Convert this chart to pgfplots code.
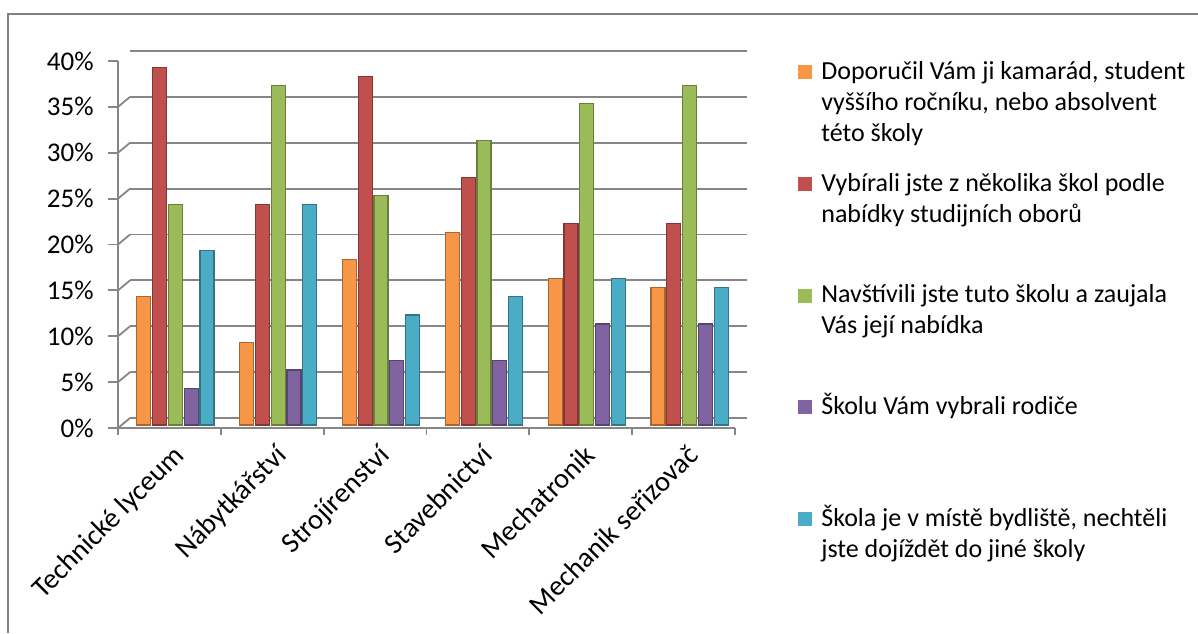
\documentclass[border=0pt]{standalone}
\usepackage{pgfplots}
\pgfplotsset{compat=1.18}
\usepackage{fontspec}
\setmainfont{Carlito}
\definecolor{cO}{HTML}{F79646}
\definecolor{cR}{HTML}{C0504D}
\definecolor{cG}{HTML}{9BBB59}
\definecolor{cP}{HTML}{8064A2}
\definecolor{cB}{HTML}{4BACC6}
\definecolor{gridc}{HTML}{868686}
\definecolor{framec}{HTML}{808080}
\pgfplotsset{
  mybar/.style={fill=#1, draw=#1!68!black, line width=0.6pt,
    legend image code/.code={\path[draw=none, fill=none] (0pt,-25.9pt) -- (0pt,25.9pt); \fill[#1, draw=none] (0pt,18.9pt) rectangle (7pt,25.9pt);}},
  common/.style={anchor=south west, scale only axis, width=308.5pt, height=183.5pt,
    xmin=-0.5, xmax=5.5, ymin=0, ymax=40},
}
\begin{document}
\begin{tikzpicture}
\path[use as bounding box] (0,0) rectangle (599pt,316.5pt);
\draw[framec, line width=1.2pt] (4pt,0) -- (4pt,309.5pt) -- (599pt,309.5pt);

% back wall gridlines
\begin{axis}[common, at={(65pt,107.5pt)},
  axis line style={draw=none}, xtick=\empty, ytick={0,5,...,40}, yticklabels={},
  major tick length=0pt, ymajorgrids, grid style={gridc, line width=0.9pt}]
\end{axis}

% front axis with ticks and labels
\begin{axis}[common, at={(59pt,102.5pt)},
  axis lines*=left, axis line style={gridc, line width=0.9pt},
  xtick={0,1,2,3,4,5},
  xticklabels={Technické lyceum, Nábytkářství, Strojírenství, Stavebnictví, Mechatronik, Mechanik seřizovač},
  major x tick style={draw=none},
  minor xtick={-0.5,0.5,1.5,2.5,3.5,4.5,5.5},
  minor x tick style={gridc, line width=0.9pt},
  ytick={0,5,...,40},
  yticklabel={\pgfmathprintnumber{\tick}\%},
  /pgf/number format/assume math mode=true,
  tick align=outside, major tick length=5pt, minor tick length=3.5pt,
  major y tick style={gridc, line width=0.9pt},
  yticklabel style={anchor=east, inner sep=0pt, xshift=-7pt, font=\fontsize{13.5}{15}\selectfont, text=black},
  xticklabel style={rotate=45, anchor=north east, inner sep=0pt, xshift=-0.9pt, yshift=-2.3pt, font=\fontsize{14.2}{16}\selectfont, text=black},
]
\pgfplotsinvokeforeach{0,5,10,15,20,25,30,35,40}{\draw[gridc, line width=0.9pt] (axis cs:-0.5,#1) -- ++(6pt,5pt);}
\draw[gridc, line width=0.9pt] (axis cs:5.5,0) -- ++(6pt,5pt);
\end{axis}

% bars
\begin{axis}[common, at={(62pt,104pt)}, hide axis,
  ybar=0.9pt, bar width=7pt,
  legend cell align=left,
  legend style={at={(1.0826,1.003)}, anchor=north west, draw=none, fill=none,
    font=\fontsize{13}{15.5}\selectfont, text=black,
    nodes={inner sep=0pt, text height=9pt, text depth=46.85pt}, row sep=0pt, column sep=4.5pt},
]
\addplot[mybar=cO] coordinates {(0,14) (1,9) (2,18) (3,21) (4,16) (5,15)};
\addlegendentry{\parbox[t]{200pt}{\raggedright Doporučil Vám ji kamarád, student\\ vyššího ročníku, nebo absolvent\\ této školy}}
\addplot[mybar=cR] coordinates {(0,39) (1,24) (2,38) (3,27) (4,22) (5,22)};
\addlegendentry{\parbox[t]{200pt}{\raggedright Vybírali jste z několika škol podle\\ nabídky studijních oborů}}
\addplot[mybar=cG] coordinates {(0,24) (1,37) (2,25) (3,31) (4,35) (5,37)};
\addlegendentry{\parbox[t]{200pt}{\raggedright Navštívili jste tuto školu a zaujala\\ Vás její nabídka}}
\addplot[mybar=cP] coordinates {(0,4) (1,6) (2,7) (3,7) (4,11) (5,11)};
\addlegendentry{\parbox[t]{200pt}{\raggedright Školu Vám vybrali rodiče}}
\addplot[mybar=cB] coordinates {(0,19) (1,24) (2,12) (3,14) (4,16) (5,15)};
\addlegendentry{\parbox[t]{200pt}{\raggedright Škola je v místě bydliště, nechtěli\\ jste dojíždět do jiné školy}}
\end{axis}
\end{tikzpicture}
\end{document}
